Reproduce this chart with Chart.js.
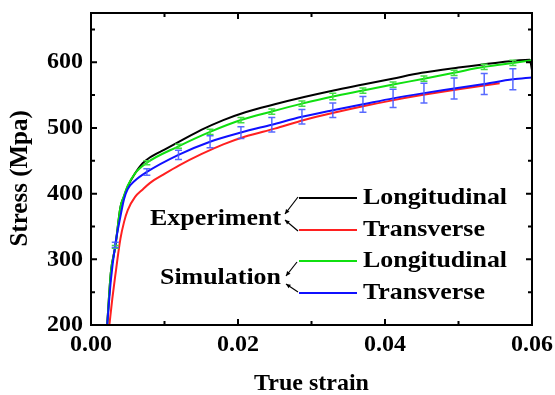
<!DOCTYPE html>
<html>
<head>
<meta charset="utf-8">
<script src="https://cdn.jsdelivr.net/npm/chart.js@4.4.0/dist/chart.umd.min.js"></script>
<style>
  html, body { margin: 0; padding: 0; background: #fff; }
  #wrap { width: 555px; height: 395px; }
</style>
</head>
<body>
<div id="wrap"><canvas id="stressChart" width="555" height="395"></canvas></div>
<script>
// Experiment, longitudinal (true strain, stress in MPa)
const expLongStrain = [0.0022, 0.0027, 0.0033, 0.0040, 0.0045, 0.0050, 0.0060, 0.0070, 0.0080, 0.0100, 0.0120, 0.0150, 0.0180, 0.0210, 0.0250, 0.0290, 0.0330, 0.0370, 0.0410, 0.0450, 0.0500, 0.0550, 0.0597, 0.0600];
const expLongStress = [200, 280, 319, 379, 396, 411, 431, 446, 455, 467, 479, 497, 512, 524, 536, 547, 557, 566, 575, 584, 592, 599, 604, 588];

// Experiment, transverse
const expTransStrain = [0.0025, 0.0029, 0.0033, 0.0040, 0.0045, 0.0050, 0.0060, 0.0070, 0.0080, 0.0100, 0.0120, 0.0150, 0.0180, 0.0210, 0.0250, 0.0290, 0.0330, 0.0370, 0.0410, 0.0450, 0.0500, 0.0556];
const expTransStress = [200, 240, 275, 331, 357, 375, 395, 406, 416, 430, 443, 460, 475, 487, 499, 512, 523, 533, 542, 550, 559, 568];

// Simulation (same strain points for both directions), with error bars
const simStrain = [0.0022, 0.0027, 0.0033, 0.0040, 0.0045, 0.0050, 0.0060, 0.0076, 0.0119, 0.0162, 0.0204, 0.0246, 0.0287, 0.0329, 0.0370, 0.0411, 0.0453, 0.0494, 0.0535, 0.0574, 0.0600];
const simLongStress = [200, 280, 319, 379, 397, 412, 431, 447, 472, 494, 512, 525, 537, 548, 557, 566, 575, 584, 593, 599, 603];
const simLongErr = [0, 0, 2, 0, 0, 0, 0, 3, 3, 4, 4, 4, 4, 5, 4, 4, 4, 4, 4, 4, 0];
const simTransStress = [200, 268, 322, 365, 392, 407, 420, 433, 459, 479, 493, 505, 517, 527, 536, 545, 553, 560, 567, 574, 577];
const simTransErr = [0, 0, 4, 0, 0, 0, 0, 5, 7, 9, 9, 11, 11, 11, 12, 14, 15, 16, 16, 16, 0];

const xTicks = [0, 0.02, 0.04, 0.06];
const xMinorTicks = [0.01, 0.03, 0.05];
const yTicks = [200, 300, 400, 500, 600];
const yMinorTicks = [250, 350, 450, 550, 650];

const FONT = '"Liberation Serif", "Times New Roman", serif';

function toPoints(xs, ys) {
    return xs.map((x, i) => ({ x: x, y: ys[i] }));
}

// error bars for datasets that carry an `errors` array
const errorBars = {
    id: 'errorBars',
    afterDatasetsDraw(chart) {
        const { ctx, scales: { x, y } } = chart;
        ctx.save();
        chart.data.datasets.forEach((ds) => {
            if (!ds.errors) return;
            ctx.strokeStyle = ds.errorColor;
            ctx.lineWidth = 1.5;
            ds.data.forEach((p, i) => {
                const e = ds.errors[i];
                if (!e) return;
                const px = x.getPixelForValue(p.x);
                const top = y.getPixelForValue(p.y + e);
                const bot = y.getPixelForValue(p.y - e);
                ctx.beginPath();
                ctx.moveTo(px, top); ctx.lineTo(px, bot);
                ctx.moveTo(px - 3.5, top); ctx.lineTo(px + 3.5, top);
                ctx.moveTo(px - 3.5, bot); ctx.lineTo(px + 3.5, bot);
                ctx.stroke();
            });
        });
        ctx.restore();
    }
};

// box frame with inward ticks on all four sides
const frame = {
    id: 'frame',
    afterDraw(chart) {
        const { ctx, chartArea: a, scales: { x, y } } = chart;
        ctx.save();
        ctx.strokeStyle = '#000';
        ctx.lineWidth = 2;
        ctx.strokeRect(a.left, a.top, a.right - a.left, a.bottom - a.top);
        ctx.beginPath();
        const tickX = (v, len) => {
            const px = x.getPixelForValue(v);
            ctx.moveTo(px, a.bottom); ctx.lineTo(px, a.bottom - len);
            ctx.moveTo(px, a.top); ctx.lineTo(px, a.top + len);
        };
        const tickY = (v, len) => {
            const py = y.getPixelForValue(v);
            ctx.moveTo(a.left, py); ctx.lineTo(a.left + len, py);
            ctx.moveTo(a.right, py); ctx.lineTo(a.right - len, py);
        };
        xTicks.forEach(v => tickX(v, 6));
        xMinorTicks.forEach(v => tickX(v, 4));
        yTicks.forEach(v => tickY(v, 6));
        yMinorTicks.forEach(v => tickY(v, 4));
        ctx.stroke();
        ctx.restore();
    }
};

// the bracket-style legend inside the plot
const bracketLegend = {
    id: 'bracketLegend',
    afterDraw(chart) {
        const ctx = chart.ctx;
        ctx.save();
        ctx.font = 'bold 24px ' + FONT;
        ctx.fillStyle = '#000';
        ctx.textBaseline = 'middle';
        ctx.textAlign = 'left';
        // text in the original is a little wider than the font
        const stretchText = (txt, x, y) => {
            ctx.save();
            ctx.translate(x, y);
            ctx.scale(1.08, 1);
            ctx.fillText(txt, 0, 0);
            ctx.restore();
        };
        const rows = [
            { color: '#000000', y: 198, label: 'Longitudinal' },
            { color: '#ff2020', y: 230, label: 'Transverse' },
            { color: '#10e010', y: 261, label: 'Longitudinal' },
            { color: '#1010ff', y: 293, label: 'Transverse' }
        ];
        rows.forEach(r => {
            ctx.strokeStyle = r.color;
            ctx.lineWidth = 2;
            ctx.beginPath();
            ctx.moveTo(299, r.y); ctx.lineTo(357, r.y);
            ctx.stroke();
            stretchText(r.label, 363, r.y);
        });
        stretchText('Experiment', 150, 219);
        stretchText('Simulation', 160, 278);

        ctx.strokeStyle = '#000';
        ctx.lineWidth = 1.2;
        const arrow = (x1, y1, x2, y2) => {
            ctx.beginPath();
            ctx.moveTo(x1, y1); ctx.lineTo(x2, y2);
            ctx.stroke();
            const ang = Math.atan2(y2 - y1, x2 - x1);
            ctx.beginPath();
            ctx.moveTo(x2, y2);
            ctx.lineTo(x2 - 5 * Math.cos(ang - 0.45), y2 - 5 * Math.sin(ang - 0.45));
            ctx.lineTo(x2 - 5 * Math.cos(ang + 0.45), y2 - 5 * Math.sin(ang + 0.45));
            ctx.closePath();
            ctx.fill();
        };
        arrow(298, 197, 285, 214);
        arrow(298, 231, 285, 220);
        arrow(297, 262, 286, 276);
        arrow(298, 292, 286, 284);
        ctx.restore();
    }
};

const lineStyle = {
    borderWidth: 2,
    pointRadius: 0,
    fill: false,
    cubicInterpolationMode: 'monotone'
};

const data = {
    datasets: [
        Object.assign({ label: 'Experiment Longitudinal', data: toPoints(expLongStrain, expLongStress), borderColor: '#000000', order: 4 }, lineStyle),
        Object.assign({ label: 'Experiment Transverse', data: toPoints(expTransStrain, expTransStress), borderColor: '#ff2020', order: 3 }, lineStyle),
        Object.assign({ label: 'Simulation Longitudinal', data: toPoints(simStrain, simLongStress), borderColor: '#10e010', order: 2,
            errors: simLongErr, errorColor: '#44dd44' }, lineStyle),
        Object.assign({ label: 'Simulation Transverse', data: toPoints(simStrain, simTransStress), borderColor: '#1010ff', order: 1,
            errors: simTransErr, errorColor: 'rgba(70,90,255,0.9)' }, lineStyle)
    ]
};

const config = {
    type: 'line',
    data: data,
    options: {
        responsive: false,
        animation: false,
        devicePixelRatio: 1,
        layout: { padding: { left: 0, top: 13, right: 23, bottom: 0 } },
        plugins: { legend: { display: false }, tooltip: { enabled: false } },
        scales: {
            x: {
                type: 'linear',
                min: 0,
                max: 0.06,
                afterBuildTicks: (scale) => { scale.ticks = xTicks.map(v => ({ value: v })); },
                afterFit: (scale) => {
                    scale.height = 70;
                    scale.paddingLeft = 0;
                    scale.paddingRight = 0;
                },
                grid: { display: false, drawTicks: false, tickLength: 0 },
                border: { display: false },
                ticks: {
                    padding: 5,
                    color: '#000',
                    font: { family: FONT, size: 24, weight: 'bold' },
                    maxRotation: 0,
                    callback: (v) => v.toFixed(2)
                },
                title: {
                    display: true,
                    text: 'True strain',
                    color: '#000',
                    font: { family: FONT, size: 24, weight: 'bold', lineHeight: 1 },
                    padding: { top: 0, bottom: -1 }
                }
            },
            y: {
                type: 'linear',
                min: 200,
                max: 675,
                afterBuildTicks: (scale) => { scale.ticks = yTicks.map(v => ({ value: v })); },
                afterFit: (scale) => {
                    scale.width = 91;
                    scale.paddingTop = 0;
                    scale.paddingBottom = 0;
                },
                grid: { display: false, drawTicks: false, tickLength: 0 },
                border: { display: false },
                ticks: {
                    padding: 8,
                    color: '#000',
                    font: { family: FONT, size: 24, weight: 'bold' }
                },
                title: {
                    display: true,
                    text: 'Stress (Mpa)   ',
                    color: '#000',
                    font: { family: FONT, size: 25, weight: 'bold', lineHeight: 1 },
                    padding: { top: 8.5, bottom: 0 }
                }
            }
        }
    },
    plugins: [errorBars, frame, bracketLegend]
};

const stressChart = new Chart(document.getElementById('stressChart'), config);
</script>
</body>
</html>
